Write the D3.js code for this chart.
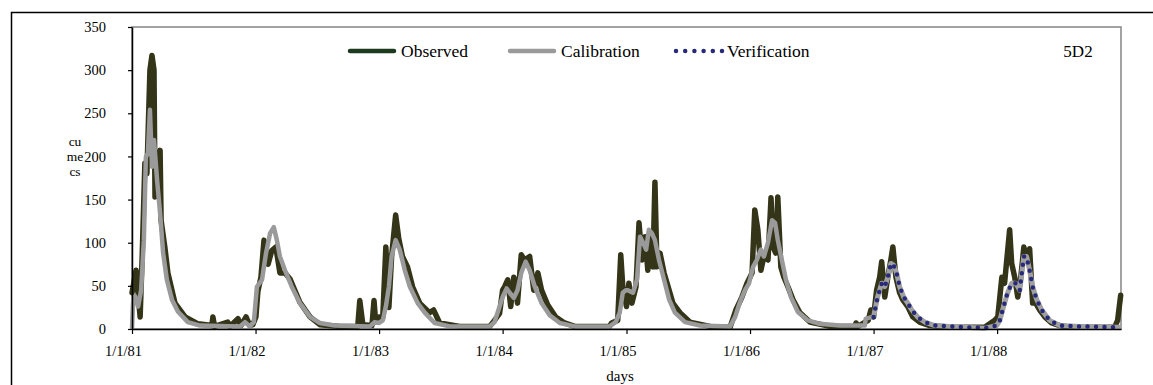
<!DOCTYPE html>
<html>
<head>
<meta charset="utf-8">
<script src="https://cdn.jsdelivr.net/npm/d3@7"></script>
<style>
  body { margin: 0; background: #fff; }
  svg { display: block; font-family: "Liberation Serif", "Times New Roman", serif; }
</style>
</head>
<body>
<svg id="chart" width="1153" height="385"></svg>
<script>
// observed flow (cumecs)
const obsDates = [
  "1981-01-01","1981-01-13","1981-01-25","1981-01-31","1981-02-08","1981-02-14","1981-02-23","1981-03-01","1981-03-07","1981-03-10",
  "1981-03-16","1981-03-25","1981-03-28","1981-04-08","1981-04-17","1981-05-08","1981-06-07","1981-07-15","1981-08-25","1981-08-28",
  "1981-09-02","1981-10-11","1981-10-17","1981-11-10","1981-11-19","1981-12-04","1981-12-15","1981-12-24",
  "1982-01-02","1982-01-08","1982-01-17","1982-01-26","1982-02-07","1982-02-18","1982-03-02","1982-03-14","1982-03-29","1982-04-13",
  "1982-05-12","1982-06-11","1982-07-10","1982-09-07","1982-10-30","1982-11-05","1982-11-14","1982-12-11","1982-12-17","1982-12-22",
  "1983-01-01","1983-01-12","1983-01-21","1983-01-30","1983-02-07","1983-02-19","1983-02-28","1983-03-11","1983-03-26","1983-04-10",
  "1983-05-01","1983-05-30","1983-06-11","1983-06-29","1983-08-27","1983-11-24","1983-12-08","1983-12-23",
  "1984-01-01","1984-01-07","1984-01-16","1984-01-25","1984-02-03","1984-02-14","1984-02-25","1984-03-06","1984-03-21","1984-04-02",
  "1984-04-14","1984-04-25","1984-05-13","1984-06-06","1984-07-02","1984-08-01","1984-11-12","1984-11-18","1984-12-06","1984-12-15",
  "1984-12-21",
  "1985-01-01","1985-01-08","1985-01-17","1985-01-29","1985-02-07","1985-02-16","1985-02-25","1985-03-05","1985-03-11","1985-03-20",
  "1985-03-26","1985-04-01","1985-04-10","1985-04-22","1985-05-04","1985-05-18","1985-06-08","1985-07-07","1985-09-05","1985-11-03",
  "1985-11-20","1985-12-08","1985-12-23",
  "1986-01-07","1986-01-15","1986-01-24","1986-02-02","1986-02-11","1986-02-23","1986-03-04","1986-03-10","1986-03-18","1986-03-24",
  "1986-04-02","1986-04-11","1986-04-23","1986-05-08","1986-05-28","1986-06-27","1986-08-25","1986-11-07","1986-11-10","1986-11-16",
  "1986-12-16","1986-12-24",
  "1987-01-01","1987-01-10","1987-01-19","1987-01-25","1987-02-03","1987-02-12","1987-02-21","1987-02-27","1987-03-08","1987-03-19",
  "1987-03-28","1987-04-12","1987-04-27","1987-05-17","1987-06-16","1987-08-14","1987-11-25","1987-12-25",
  "1988-01-03","1988-01-15","1988-01-23","1988-02-07","1988-02-13","1988-02-22","1988-03-02","1988-03-11","1988-03-20","1988-03-28",
  "1988-04-06","1988-04-15","1988-04-24","1988-05-06","1988-05-21","1988-06-10","1988-07-04","1988-08-02","1988-12-13","1988-12-22",
  "1988-12-31"
];
const obsValues = [
  42,68,14,83,192,180,300,317,300,153,
  180,207,126,95,65,30,14,6,4,14,
  3,8,3,12,4,14,4,5,
  14,44,60,103,75,91,95,65,65,58,
  31,14,5,3,3,33,5,4,33,8,
  14,14,95,25,84,132,105,84,72,49,
  30,19,22,7,3,3,10,18,
  45,49,57,26,60,30,86,80,84,45,
  65,45,28,14,7,3,3,7,10,86,
  49,
  26,53,30,49,123,80,107,68,111,72,
  170,72,88,65,49,30,19,8,3,2,
  22,37,53,
  65,138,115,68,84,80,152,95,88,153,
  72,60,49,34,19,8,3,3,7,3,
  10,22,
  14,45,60,78,37,60,80,95,60,42,
  34,26,14,8,4,2,2,10,
  14,60,53,115,76,60,37,60,95,80,
  93,30,30,22,14,7,4,2,2,10,
  39
];

// calibration run 1981-1986
const calDates = [
  "1981-01-01","1981-01-04","1981-01-10","1981-01-19","1981-01-28","1981-02-05","1981-02-11","1981-02-17","1981-02-23","1981-03-01",
  "1981-03-07","1981-03-16","1981-03-25","1981-04-03","1981-04-14","1981-04-29","1981-05-17","1981-06-15","1981-07-21","1981-11-16",
  "1981-12-01","1981-12-15","1981-12-27",
  "1982-01-05","1982-01-20","1982-02-01","1982-02-13","1982-02-24","1982-03-05","1982-03-14","1982-03-29","1982-04-18","1982-05-12",
  "1982-06-11","1982-07-10","1982-08-23","1982-12-05","1982-12-19",
  "1983-01-01","1983-01-12","1983-01-21","1983-01-30","1983-02-07","1983-02-19","1983-03-03","1983-03-18","1983-04-02","1983-04-25",
  "1983-05-16","1983-06-14","1983-07-29","1983-11-24","1983-12-08","1983-12-23",
  "1984-01-01","1984-01-13","1984-01-22","1984-02-03","1984-02-14","1984-02-25","1984-03-09","1984-03-21","1984-04-05","1984-04-25",
  "1984-05-19","1984-06-18","1984-08-01","1984-11-12","1984-11-30","1984-12-12","1984-12-21","1984-12-30",
  "1985-01-05","1985-01-20","1985-02-01","1985-02-10","1985-02-19","1985-02-28","1985-03-08","1985-03-17","1985-03-26","1985-04-07",
  "1985-04-22","1985-05-07","1985-05-24","1985-06-23","1985-08-06","1985-11-03","1985-11-18","1985-12-02","1985-12-17","1985-12-29",
  "1986-01-10","1986-01-21","1986-02-02","1986-02-11","1986-02-23","1986-03-07","1986-03-16","1986-03-24","1986-04-05","1986-04-17",
  "1986-05-02","1986-05-22","1986-06-21","1986-07-26","1986-09-23","1986-12-06","1986-12-09","1986-12-30"
];
const calValues = [
  0,30,38,26,45,103,199,204,254,188,
  219,173,134,88,57,34,20,8,4,3,
  8,3,8,
  49,57,88,111,118,103,84,68,49,30,
  14,7,4,3,8,
  7,10,26,49,84,103,92,68,49,30,
  19,7,3,3,8,26,
  37,47,42,36,45,65,78,68,49,30,
  16,7,3,3,8,19,42,45,
  45,42,57,107,100,92,115,111,103,80,
  57,34,19,8,4,3,14,31,45,53,
  72,80,92,84,100,126,123,103,80,57,
  37,20,10,6,4,4,12,14
];

// verification run 1987-1988
const verDates = [
  "1987-01-01","1987-01-05","1987-01-13","1987-01-25","1987-02-03","1987-02-12","1987-02-21","1987-03-01","1987-03-10","1987-03-19",
  "1987-03-31","1987-04-12","1987-04-24","1987-05-11","1987-06-01","1987-07-01","1987-08-14","1987-11-25","1987-12-10","1987-12-31",
  "1988-01-09","1988-01-20","1988-02-01","1988-02-13","1988-02-25","1988-03-08","1988-03-14","1988-03-20","1988-03-28","1988-04-06",
  "1988-04-15","1988-04-27","1988-05-12","1988-06-04","1988-07-04","1988-09-01","1988-12-16","1988-12-31"
];
const verValues = [
  14,22,37,53,49,60,76,74,65,49,
  37,30,22,14,8,4,3,1,2,4,
  10,26,42,53,53,45,65,84,84,68,
  49,34,22,10,4,3,2,2
];

const yTicks = [0, 50, 100, 150, 200, 250, 300, 350];
const xTickDates = ["1981-01-01","1982-01-01","1983-01-01","1984-01-01","1985-01-01","1986-01-01","1987-01-01","1988-01-01"];
const xTickLabels = ["1/1/81","1/1/82","1/1/83","1/1/84","1/1/85","1/1/86","1/1/87","1/1/88"];
const seriesNames = ["Observed", "Calibration", "Verification"];
const yLabelLines = ["cu", "me", "cs"];
const panelTag = "5D2";

const parse = d3.timeParse("%Y-%m-%d");
const obs = obsDates.map((d, i) => ({ date: parse(d), value: obsValues[i] }));
const cal = calDates.map((d, i) => ({ date: parse(d), value: calValues[i] }));
const ver = verDates.map((d, i) => ({ date: parse(d), value: verValues[i] }));

const plotLeft = 132, plotRight = 1121, plotTop = 27, plotBottom = 329;
const svg = d3.select("#chart");

// outer frame (only top and left edges are in view)
svg.append("path")
  .attr("d", "M11.5,385 V12.5 H1153")
  .attr("fill", "none").attr("stroke", "#000").attr("stroke-width", 1.5);

const x = d3.scaleTime()
  .domain([parse("1981-01-01"), parse("1989-01-01")])
  .range([plotLeft, plotRight]);
const y = d3.scaleLinear()
  .domain([0, 350])
  .range([plotBottom, plotTop]);

// plot area frame
svg.append("rect")
  .attr("x", plotLeft).attr("y", plotTop)
  .attr("width", plotRight - plotLeft).attr("height", plotBottom - plotTop)
  .attr("fill", "none").attr("stroke", "#858585").attr("stroke-width", 1.5);

const line = d3.line()
  .x(d => x(d.date))
  .y(d => y(d.value));

svg.append("path")
  .datum(obs)
  .attr("d", line)
  .attr("fill", "none")
  .attr("stroke", "#343418")
  .attr("stroke-width", 5.5)
  .attr("stroke-linejoin", "round")
  .attr("stroke-linecap", "round");

svg.append("path")
  .datum(cal)
  .attr("d", line)
  .attr("fill", "none")
  .attr("stroke", "#9a9a9a")
  .attr("stroke-width", 4.5)
  .attr("stroke-linejoin", "round");

// verification: grey trace with navy dots on top
svg.append("path")
  .datum(ver)
  .attr("d", line)
  .attr("fill", "none")
  .attr("stroke", "#a0a0a0")
  .attr("stroke-width", 5)
  .attr("stroke-linejoin", "round");

svg.append("path")
  .datum(ver)
  .attr("d", line)
  .attr("fill", "none")
  .attr("stroke", "#27297a")
  .attr("stroke-width", 4.5)
  .attr("stroke-dasharray", "0,8.5")
  .attr("stroke-linecap", "round");

// axes
const yAxis = svg.append("g")
  .attr("transform", `translate(${plotLeft},0)`)
  .call(d3.axisLeft(y).tickValues(yTicks).tickSize(4).tickSizeOuter(0).tickPadding(22));
const xAxis = svg.append("g")
  .attr("transform", `translate(0,${plotBottom})`)
  .call(d3.axisBottom(x).tickValues(xTickDates.map(parse)).tickSize(5).tickSizeOuter(0).tickPadding(12)
    .tickFormat((d, i) => xTickLabels[i]));

[yAxis, xAxis].forEach(g => {
  g.select(".domain").attr("stroke", "#000").attr("stroke-width", 1.5);
  g.selectAll(".tick line").attr("stroke", "#000").attr("stroke-width", 1.2);
  g.selectAll(".tick text")
    .attr("fill", "#000")
    .style("font-family", "'Liberation Serif', serif")
    .style("font-size", "14.5px");
});
xAxis.selectAll(".tick text").attr("dx", -9);

// axis titles
svg.append("text")
  .attr("x", 620).attr("y", 381)
  .attr("text-anchor", "middle")
  .style("font-size", "15px")
  .text("days");

svg.append("g").selectAll("text")
  .data(yLabelLines)
  .join("text")
  .attr("x", 75)
  .attr("y", (d, i) => 146 + i * 15)
  .attr("text-anchor", "middle")
  .style("font-size", "13.5px")
  .text(d => d);

svg.append("text")
  .attr("x", 1078).attr("y", 57)
  .attr("text-anchor", "middle")
  .style("font-size", "17px")
  .text(panelTag);

// legend
const legendX = [348, 508, 674];
const legend = svg.append("g");
seriesNames.forEach((name, i) => {
  const g = legend.append("g").attr("transform", `translate(${legendX[i]},51)`);
  if (i === 0) {
    g.append("line").attr("x1", 2).attr("x2", 46)
      .attr("stroke", "#1d3a1f").attr("stroke-width", 4.5).attr("stroke-linecap", "round");
  } else if (i === 1) {
    g.append("line").attr("x1", 2).attr("x2", 46)
      .attr("stroke", "#9a9a9a").attr("stroke-width", 4.5).attr("stroke-linecap", "round");
  } else {
    g.append("line").attr("x1", 2).attr("x2", 48)
      .attr("stroke", "#27297a").attr("stroke-width", 4.5)
      .attr("stroke-dasharray", "0,9.2").attr("stroke-linecap", "round");
  }
  g.append("text")
    .attr("x", 53).attr("y", 6)
    .style("font-size", "17.5px")
    .text(name);
});
</script>
</body>
</html>
